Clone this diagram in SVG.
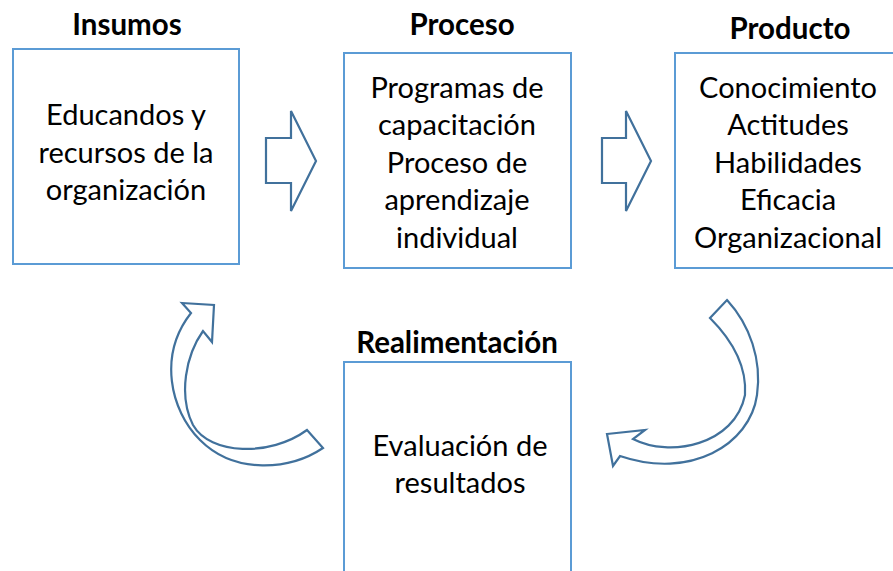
<svg xmlns="http://www.w3.org/2000/svg" width="893" height="571" viewBox="0 0 893 571">
<style>
  .box { fill: #ffffff; stroke: #5B9BD5; stroke-width: 2; }
  .arr { fill: #ffffff; stroke: #41719C; stroke-width: 2.2; stroke-linejoin: miter; }
  .t { font-family: Lato, "Liberation Sans", sans-serif; font-size: 29px; fill: #000; text-anchor: middle; }
  .h { font-family: Lato, "Liberation Sans", sans-serif; font-size: 29.5px; font-weight: bold; fill: #000; text-anchor: middle; }
</style>
<rect width="893" height="571" fill="#ffffff"/>
<g id="insumos">
  <text class="h" x="127" y="35">Insumos</text>
  <rect class="box" x="13" y="49" width="226" height="215"/>
  <text class="t" x="126" y="125">Educandos y</text>
  <text class="t" x="126" y="163">recursos de la</text>
  <text class="t" x="126" y="200">organización</text>
</g>
<g id="proceso">
  <text class="h" x="462" y="35">Proceso</text>
  <rect class="box" x="344" y="53" width="227" height="215"/>
  <text class="t" x="457" y="98">Programas de</text>
  <text class="t" x="457" y="135">capacitación</text>
  <text class="t" x="457" y="173">Proceso de</text>
  <text class="t" x="457" y="210">aprendizaje</text>
  <text class="t" x="457" y="248">individual</text>
</g>
<g id="producto">
  <text class="h" x="790" y="39">Producto</text>
  <rect class="box" x="675" y="53" width="226" height="215"/>
  <text class="t" x="788" y="98">Conocimiento</text>
  <text class="t" x="788" y="135">Actitudes</text>
  <text class="t" x="788" y="173">Habilidades</text>
  <text class="t" x="788" y="210">Eficacia</text>
  <text class="t" x="788" y="248">Organizacional</text>
</g>
<g id="realimentacion">
  <text class="h" x="457" y="353">Realimentación</text>
  <rect class="box" x="344" y="362" width="227" height="240"/>
  <text class="t" x="460" y="456">Evaluación de</text>
  <text class="t" x="460" y="493">resultados</text>
</g>
<g id="connectors">
  <path class="arr" d="M266,138 L291,138 L291,111 L316,161 L291,211 L291,183 L266,183 Z"/>
  <path class="arr" d="M602,138 L626,138 L626,111 L651,161 L626,211 L626,183 L602,183 Z"/>
  <path class="arr" d="M182,303 L214,305 L212,342 L203,331 C186,355 178,395 193,425 C210,455 270,457 307,430 L323,448 C290,470 235,475 200,440 C170,410 158,355 191,313 Z"/>
  <path class="arr" d="M607,434 L645,430 L633,439 C670,458 735,445 745,395 C747,365 730,338 710,318 L727,300 C750,325 762,360 757,395 C750,445 690,480 620,456 L613,466 Z"/>
</g>
</svg>
